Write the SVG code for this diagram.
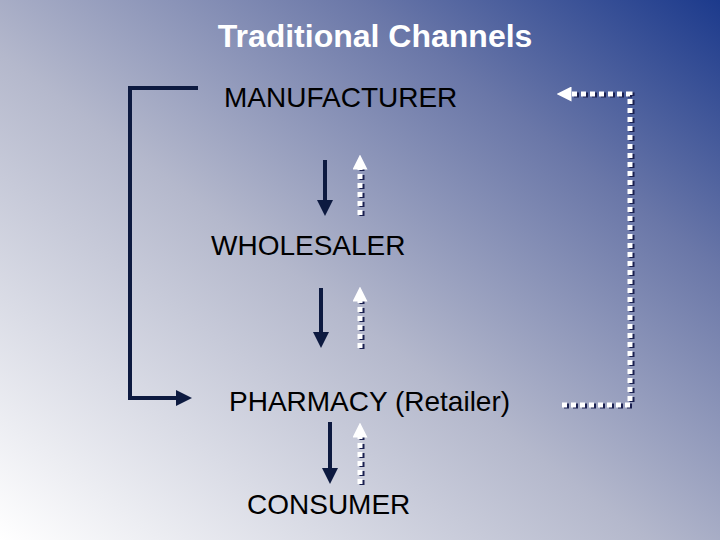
<svg xmlns="http://www.w3.org/2000/svg" width="720" height="540" viewBox="0 0 720 540">
<defs>
<linearGradient id="bg" x1="0" y1="1" x2="1" y2="0">
<stop offset="0" stop-color="#ffffff"/>
<stop offset="0.45" stop-color="#b4b8cc"/>
<stop offset="0.75" stop-color="#6a77a8"/>
<stop offset="1" stop-color="#1c3a8c"/>
</linearGradient>
<marker id="ah" markerWidth="4" markerHeight="4" refX="2" refY="2" orient="auto" markerUnits="strokeWidth"><path d="M0,0 L4,2 L0,4 Z" fill="#0d1a40"/></marker>
<marker id="wh" markerWidth="3" markerHeight="3" refX="1.5" refY="1.5" orient="auto" markerUnits="strokeWidth"><path d="M0,0 L3,1.5 L0,3 Z" fill="#fff"/></marker>
</defs>
<style>
.t{font-family:"Liberation Sans",Arial,sans-serif;font-size:28px;fill:#000}
.s{fill:none;stroke:#0d1a40;stroke-width:4}
.d{fill:none;stroke:#fff;stroke-width:5;stroke-dasharray:5 4}
.sh{fill:none;stroke:#1a2050;stroke-width:5;stroke-dasharray:5 4}
</style>
<rect width="720" height="540" fill="url(#bg)"/>
<text x="375" y="47" text-anchor="middle" style="font-family:'Liberation Sans',Arial,sans-serif;font-size:32px;font-weight:bold;fill:#fff">Traditional Channels</text>
<g id="manufacturer"><text class="t" x="224" y="107">MANUFACTURER</text></g>
<g id="wholesaler"><text class="t" x="211" y="255">WHOLESALER</text></g>
<g id="pharmacy"><text class="t" x="229" y="411">PHARMACY (Retailer)</text></g>
<g id="consumer"><text class="t" x="247" y="514">CONSUMER</text></g>
<g id="connectors">
<path class="s" d="M198,88 H130 V398 H184" marker-end="url(#ah)"/>
<path class="s" d="M325,160 V208" marker-end="url(#ah)"/>
<path class="s" d="M321,288 V340" marker-end="url(#ah)"/>
<path class="s" d="M330,422 V476" marker-end="url(#ah)"/>
<g transform="translate(2,1)">
<path class="sh" d="M360,215 V168"/><path class="sh" d="M360,348 V300"/><path class="sh" d="M360,484 V436"/>
<path class="sh" d="M562,405 H630 V94 H570"/>
</g>
<path class="d" d="M360,215 V162" marker-end="url(#wh)"/>
<path class="d" d="M360,348 V294" marker-end="url(#wh)"/>
<path class="d" d="M360,484 V430" marker-end="url(#wh)"/>
<path class="d" d="M562,405 H630 V94 H564" marker-end="url(#wh)"/>
</g>
</svg>
